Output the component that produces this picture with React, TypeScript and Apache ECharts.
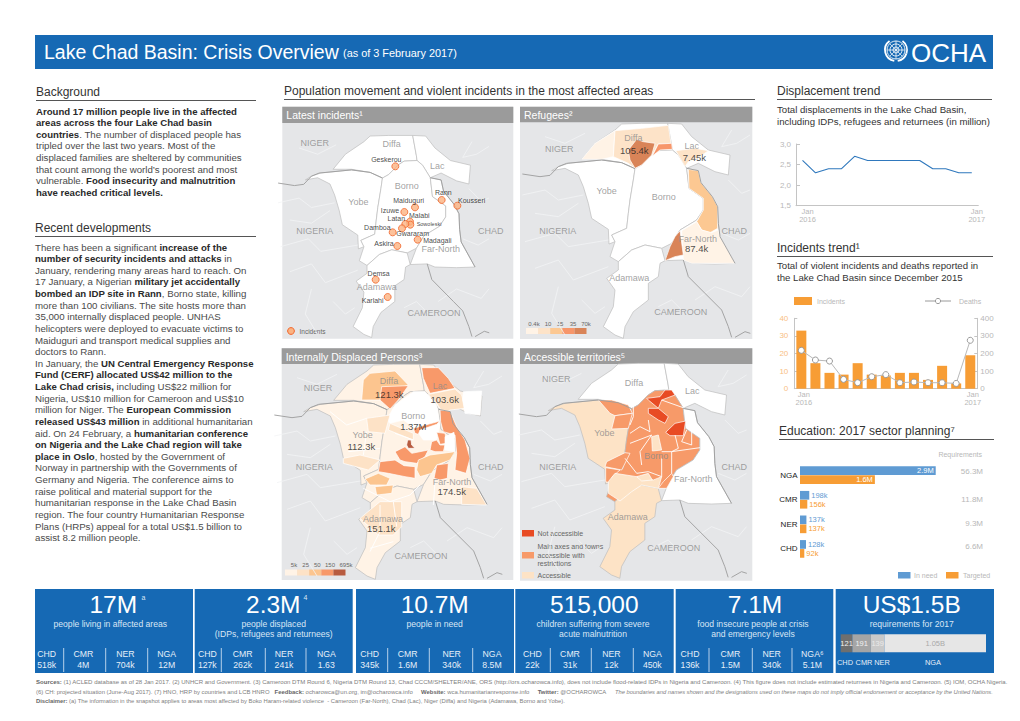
import React, { useEffect, useRef } from "react";
import * as echarts from "echarts";

const FONT = "'Liberation Sans', Arial, sans-serif";

// ---------- chart data ----------
const dispLabels = ["Jan\n2016", "", "", "", "", "", "", "", "", "", "", "", "", "Jan\n2017"];
const dispValues = [2.6, 2.3, 2.4, 2.4, 2.7, 2.6, 2.6, 2.6, 2.6, 2.6, 2.4, 2.4, 2.3, 2.3];
const incLabels = ["Jan\n2016", "", "", "", "", "", "", "", "", "", "", "", "Jan\n2017"];
const incidents = [33, 14.5, 9, 8, 14.5, 8, 7.5, 9, 9, 5, 13, 3, 19];
const deaths = [218, 163, 157, 53, 34, 68, 80, 34, 38, 34, 34, 30, 275];
const eduCats = ["NGA", "CMR", "NER", "CHD"];
const eduNeed = [2900, 198, 137, 128];
const eduTarget = [1600, 156, 137, 92];
const eduReq = ["56.3M", "11.8M", "9.3M", "6.6M"];
const reqValues = [121, 191, 139, 1050];
const reqLabels = ["121", "191", "139", "1.05B"];

// ---------- KPI ----------
const kpiBig = ["17M", "2.3M", "10.7M", "515,000", "7.1M", "US$1.5B"];
const kpiNote = [
  ["people living in affected areas"],
  ["people displaced", "(IDPs, refugees and returnees)"],
  ["people in need"],
  ["children suffering from severe", "acute malnutrition"],
  ["food insecure people at crisis", "and emergency levels"],
  ["requirements for 2017"],
];
const kpiCountry = ["CHD", "CMR", "NER", "NGA"];
const kpiRows = [
  ["518k", "4M", "704k", "12M"],
  ["127k", "262k", "241k", "1.63"],
  ["345k", "1.6M", "340k", "8.5M"],
  ["22k", "31k", "12k", "450k"],
  ["136k", "1.5M", "340k", "5.1M"],
];

// ---------- text ----------
const backgroundText = [
  "**Around 17 million people live in the affected**",
  "**areas across the four Lake Chad basin**",
  "**countries**. The number of displaced people has",
  "tripled over the last two years. Most of the",
  "displaced families are sheltered by communities",
  "that count among the world’s poorest and most",
  "vulnerable. **Food insecurity and malnutrition**",
  "**have reached critical levels.**",
];
const recentText = [
  "There has been a significant **increase of the**",
  "**number of security incidents and attacks** in",
  "January, rendering many areas hard to reach. On",
  "17 January, a Nigerian **military jet accidentally**",
  "**bombed an IDP site in Rann**, Borno state, killing",
  "more than 100 civilians. The site hosts more than",
  "35,000 internally displaced people. UNHAS",
  "helicopters were deployed to evacuate victims to",
  "Maiduguri and transport medical supplies and",
  "doctors to Rann.",
  "In January, the **UN Central Emergency Response**",
  "**Fund (CERF) allocated US$42 million to the**",
  "**Lake Chad crisis,** including US$22 million for",
  "Nigeria, US$10 million for Cameroon and US$10",
  "million for Niger. The **European Commission**",
  "**released US$43 million** in additional humanitarian",
  "aid. On 24 February, a **humanitarian conference**",
  "**on Nigeria and the Lake Chad region will take**",
  "**place in Oslo**, hosted by the Government of",
  "Norway in partnership with the Governments of",
  "Germany and Nigeria. The conference aims to",
  "raise political and material support for the",
  "humanitarian response in the Lake Chad Basin",
  "region. The four country Humanitarian Response",
  "Plans (HRPs) appeal for a total US$1.5 billion to",
  "assist 8.2 million people.",
];
const footer1 = "**Sources:** (1) ACLED database as of 28 Jan 2017. (2) UNHCR and Government. (3) Cameroon DTM Round 6, Nigeria DTM Round 13, Chad CCCM/SHELTER/ANE, ORS (http://ors.ocharowca.info), does not include flood-related IDPs in Nigeria and Cameroon. (4) This figure does not include estimated returnees in Nigeria and Cameroon. (5) IOM, OCHA Nigeria.";
const footer2 = "(6) CH: projected situation (June-Aug 2017). (7) HNO, HRP by countries and LCB HNRO   **Feedback:** ocharowca@un.org, im@ocharowca.info     **Website:** wca.humanitarianresponse.info     **Twitter:** @OCHAROWCA";
const footer2b = "The boundaries and names shown and the designations used on these maps do not imply official endorsement or acceptance by the United Nations.";
const footer3 = "**Disclaimer:** (a) The information in the snapshot applies to areas most affected by Boko Haram-related violence  - Cameroon (Far-North), Chad (Lac), Niger (Diffa) and Nigeria (Adamawa, Borno and Yobe).";

// ---------- map geometry (in a shared base coordinate frame) ----------
type Pt = [number, number];
const stateDiffa: Pt[] = [[200, 178], [240, 130], [300, 90], [320, 72], [380, 70], [458, 70], [470, 135], [472, 150], [430, 152], [410, 165], [380, 195], [360, 206], [320, 188], [260, 178]];
const stateLac: Pt[] = [[458, 70], [500, 72], [530, 110], [580, 150], [645, 165], [640, 225], [600, 215], [550, 190], [515, 205], [490, 165], [472, 150], [470, 135]];
const stateYobe: Pt[] = [[110, 212], [130, 200], [160, 190], [260, 180], [320, 188], [360, 206], [355, 240], [345, 300], [340, 340], [335, 385], [290, 405], [300, 425], [282, 432], [280, 388], [230, 355], [220, 310], [205, 260], [190, 225], [150, 205]];
const stateBorno: Pt[] = [[360, 206], [380, 195], [410, 165], [430, 152], [472, 150], [490, 165], [515, 205], [522, 265], [565, 295], [565, 330], [545, 360], [495, 390], [470, 430], [440, 445], [390, 435], [350, 450], [310, 485], [285, 470], [300, 425], [290, 405], [335, 385], [340, 340], [345, 300], [355, 240]];
const stateFarNorth: Pt[] = [[515, 205], [550, 212], [558, 248], [592, 290], [608, 320], [610, 370], [615, 410], [660, 490], [600, 492], [530, 490], [505, 480], [450, 482], [470, 430], [495, 390], [545, 360], [565, 330], [565, 295], [522, 265]];
const stateAdamawa: Pt[] = [[310, 485], [350, 450], [390, 435], [440, 445], [450, 482], [435, 490], [430, 530], [400, 550], [400, 600], [355, 635], [330, 680], [325, 715], [300, 705], [265, 680], [295, 620], [300, 570], [275, 535], [310, 510]];
const stateNames = ["Diffa", "Lac", "Yobe", "Borno", "FarNorth", "Adamawa"];
const statePolys: Pt[][] = [stateDiffa, stateLac, stateYobe, stateBorno, stateFarNorth, stateAdamawa];

const borderLines: Pt[][] = [
  [[22, 222], [75, 230], [105, 226], [130, 200], [155, 190], [260, 180], [320, 188], [360, 206]],
  [[505, 480], [520, 530], [590, 600], [620, 630], [640, 680], [650, 712]],
  [[660, 712], [690, 695], [706, 700]],
  [[515, 205], [550, 212], [558, 248], [592, 290], [608, 320], [610, 370], [615, 410], [660, 490]],
];
const adminLines: Pt[][] = [
  [[22, 285], [90, 270], [130, 300], [205, 285]],
  [[30, 425], [120, 400], [160, 440], [280, 420]],
  [[60, 505], [130, 480], [175, 540], [280, 500]],
  [[130, 560], [110, 640], [150, 705]],
  [[200, 600], [240, 640], [270, 620]],
  [[650, 90], [620, 140], [665, 130], [705, 105]],
  [[640, 240], [680, 280], [705, 270]],
  [[620, 400], [670, 420], [705, 400]],
  [[540, 600], [600, 560], [680, 590], [705, 560]],
  [[430, 620], [470, 600], [510, 640]],
  [[90, 110], [150, 130], [210, 100]],
  [[60, 340], [130, 350], [190, 310]],
];
const idpDividers: Pt[][] = [
  [[300, 480], [300, 560], [270, 620]],
  [[340, 470], [350, 545]],
  [[250, 430], [330, 470], [390, 450], [420, 420]],
  [[205, 320], [300, 310]],
  [[260, 260], [250, 330]],
  [[270, 610], [340, 590]],
  [[465, 410], [460, 480]],
  [[150, 200], [200, 240], [260, 220]],
  [[345, 265], [400, 285]],
];
const accessDividers: Pt[][] = [
  [[400, 225], [405, 260], [375, 245], [345, 265]],
  [[345, 295], [410, 270], [375, 320], [380, 360]],
  [[440, 340], [440, 395]],
  [[480, 270], [490, 310], [470, 320], [470, 385]],
  [[355, 180], [355, 215], [345, 240]],
  [[515, 255], [500, 290], [530, 300], [530, 255]],
  [[330, 340], [365, 385], [400, 380], [440, 395]],
  [[440, 165], [510, 190]],
  [[440, 320], [470, 320], [555, 308]],
];

// Choropleth cells per panel: [class index, ring] in the panel's own traced frame
const refugeeCells: [number, Pt[]][] = [
  [0, [[200, 178], [240, 130], [300, 92], [295, 170], [260, 178]]],
  [1, [[300, 92], [380, 85], [460, 76], [468, 130], [430, 132], [412, 165], [380, 195], [360, 205], [340, 190], [295, 170]]],
  [4, [[365, 118], [385, 125], [420, 130], [410, 165], [380, 195], [360, 205], [345, 180], [340, 150]]],
  [3, [[430, 132], [470, 130], [472, 148], [435, 150], [412, 168]]],
  [1, [[482, 152], [540, 145], [580, 152], [555, 170], [520, 185], [510, 200], [490, 165]]],
  [2, [[520, 208], [550, 212], [558, 248], [592, 290], [608, 320], [608, 385], [585, 398], [560, 390], [545, 365], [565, 330], [565, 295], [522, 265]]],
  [0, [[545, 365], [560, 390], [590, 398], [610, 390], [615, 410], [660, 490], [530, 490], [505, 480], [500, 392]]],
  [4, [[495, 392], [505, 465], [480, 470], [450, 482], [465, 440], [480, 410]]],
];
const idpCells: [number, Pt[]][] = [
  [2, [[250, 105], [270, 85], [345, 78], [385, 120], [345, 135], [300, 165], [245, 165]]],
  [3, [[305, 125], [385, 122], [355, 165], [330, 192], [300, 165]]],
  [3, [[425, 68], [475, 68], [505, 100], [525, 130], [450, 145], [430, 100]]],
  [1, [[445, 148], [525, 132], [545, 150], [555, 190], [510, 195], [490, 205], [470, 175]]],
  [5, [[550, 140], [605, 138], [600, 210], [555, 205], [548, 165]]],
  [5, [[320, 225], [345, 180], [400, 140], [435, 140], [470, 180], [480, 240], [470, 285], [430, 285], [405, 250], [370, 225], [330, 235]]],
  [1, [[260, 220], [330, 210], [315, 265], [265, 260]]],
  [1, [[330, 235], [400, 265], [400, 285], [325, 255]]],
  [3, [[480, 195], [510, 198], [530, 245], [555, 285], [570, 340], [558, 385], [525, 375], [530, 325], [525, 270], [490, 260], [482, 230]]],
  [3, [[345, 320], [375, 305], [395, 325], [445, 315], [435, 335], [410, 355], [375, 350], [360, 345]]],
  [3, [[300, 350], [345, 345], [372, 362], [405, 365], [405, 400], [375, 395], [325, 385], [295, 380]]],
  [3, [[400, 250], [480, 228], [470, 238], [420, 255], [415, 268], [405, 265]]],
  [3, [[455, 290], [470, 285], [480, 300], [495, 300], [490, 320], [465, 320], [450, 315]]],
  [3, [[470, 262], [495, 265], [500, 295], [480, 298]]],
  [5, [[495, 275], [522, 262], [525, 320], [495, 315]]],
  [2, [[415, 345], [450, 330], [525, 320], [510, 345], [470, 360], [455, 385], [420, 395], [410, 375]]],
  [3, [[470, 360], [505, 355], [502, 400], [480, 405], [462, 400]]],
  [4, [[383, 285], [393, 285], [395, 300], [405, 310], [385, 310], [380, 300]]],
  [2, [[255, 402], [295, 385], [330, 400], [320, 420], [290, 420], [270, 420]]],
  [2, [[285, 425], [340, 420], [335, 445], [290, 450]]],
  [1, [[300, 470], [365, 470], [365, 545], [340, 570], [295, 570], [240, 520]]],
  [1, [[545, 425], [590, 430], [620, 480], [545, 478]]],
  [1, [[190, 340], [240, 330], [300, 345], [265, 375], [190, 355]]],
];
const accessCells: [number, Pt[]][] = [
  [1, [[250, 165], [290, 165], [340, 180], [352, 205], [300, 212], [285, 205]]],
  [1, [[300, 212], [352, 205], [340, 250], [290, 252]]],
  [1, [[275, 350], [330, 323], [345, 325], [335, 345], [320, 375], [270, 365]]],
  [1, [[272, 368], [315, 375], [292, 395], [288, 415], [272, 410]]],
  [0, [[280, 410], [300, 385], [365, 395], [415, 405], [440, 395], [430, 430], [380, 420], [350, 440], [315, 468], [280, 445]]],
  [0, [[410, 275], [430, 270], [440, 315], [412, 318]]],
  [0, [[365, 395], [400, 385], [412, 405], [380, 408]]],
  [1, [[430, 430], [445, 410], [470, 385], [475, 395], [455, 430]]],
  [2, [[395, 160], [435, 155], [450, 135], [470, 135], [480, 150], [440, 165], [430, 190], [400, 165]]],
  [2, [[400, 190], [430, 190], [460, 215], [450, 235], [430, 225], [400, 205]]],
  [2, [[452, 262], [480, 235], [512, 228], [505, 272], [465, 272]]],
];

// Place names and values per panel: [text, x, y]
const p1Names: [string, number, number][] = [["NIGER", 104, 130], ["Diffa", 335, 131], ["Lac", 472, 197], ["Borno", 380, 258], ["Yobe", 235, 306], ["NIGERIA", 104, 393], ["CHAD", 632, 393], ["Far-North", 482, 447], ["Adamawa", 290, 561], ["CAMEROON", 462, 640]];
const p2Names: [string, number, number][] = [["NIGER", 133, 148], ["Diffa", 355, 115], ["Lac", 530, 138], ["Yobe", 275, 272], ["Borno", 446, 292], ["NIGERIA", 128, 393], ["CHAD", 658, 393], ["Far-North", 548, 418], ["Adamawa", 343, 533], ["CAMEROON", 497, 635]];
const p3Names: [string, number, number][] = [["NIGER", 114, 130], ["Diffa", 327, 107], ["Lac", 480, 122], ["Borno", 400, 214], ["Yobe", 248, 270], ["NIGERIA", 103, 367], ["CHAD", 632, 367], ["Far-North", 516, 411], ["Adamawa", 309, 521], ["CAMEROON", 423, 632]];
const p4Names: [string, number, number][] = [["NIGER", 124, 103], ["Diffa", 357, 115], ["Lac", 532, 138], ["Yobe", 268, 263], ["NIGERIA", 128, 367], ["CHAD", 658, 367], ["Borno", 424, 333], ["Far-North", 535, 403], ["Adamawa", 338, 516], ["CAMEROON", 476, 610]];
const p2Values: [string, number, number][] = [["105.4k", 358, 150], ["7.45k", 538, 171], ["87.4k", 545, 445]];
const p3Values: [string, number, number][] = [["121.3k", 328, 147], ["103.6k", 494, 162], ["1.37M", 400, 244], ["112.3k", 244, 303], ["174.5k", 515, 440], ["151.1k", 304, 550]];
const incidentPoints: Pt[] = [[346, 199], [485, 300], [532, 317], [405, 322], [373, 336], [390, 365], [391, 374], [376, 372], [366, 385], [338, 397], [413, 419], [352, 438], [287, 539], [323, 591]];
const incidentNames: [string, number, number][] = [["Geskerou", 319, 179], ["Rann", 490, 278], ["Kousseri", 575, 301], ["Maiduguri", 386, 301], ["Izuwe", 330, 331], ["Latan", 349, 356], ["Malabi", 418, 345], ["Sowoleski", 447, 373], ["Damboa", 292, 381], ["Gwararam", 398, 400], ["Madagali", 472, 422], ["Askira", 312, 431], ["Demsa", 296, 519], ["Karlahi", 278, 600]];

const refugeeLegend = ["0.4k", "10", "15", "35", "70k"];
const idpLegend = ["5k", "25", "50", "150", "695k"];

// ---------- palettes ----------
const refugeePalette = ["#fff3e6", "#fde3c8", "#fcc892", "#f7966a", "#d98458"];
const idpPalette = ["#fff3e6", "#fde2c6", "#fcc58f", "#f8996a", "#b85c40", "#ffffff"];
const accessPalette = ["#fde3c6", "#f79a69", "#e84b24"];
const BLUE = "#1669b4";
const GRAY_LABEL = "#8a8a8a";
const AXIS = "#c4c4c4";
const AXIS_TEXT = "#b8b8b8";
const ORANGE = "#f79d35";
const SKY = "#5f9bd3";

function closeRing(r: Pt[]): Pt[] {
  return [...r, r[0]];
}

function registerPanel(
  key: string,
  w: number,
  h: number,
  xform: (p: Pt) => Pt,
  stateFill: string[],
  cells: [number, Pt[]][],
  palette: string[],
) {
  const features: any[] = [];
  const regions: any[] = [];
  const add = (name: string, ring: Pt[], style: any) => {
    features.push({ type: "Feature", properties: { name }, geometry: { type: "Polygon", coordinates: [closeRing(ring)] } });
    regions.push({ name, itemStyle: style, emphasis: { disabled: true }, silent: true });
  };
  add("frame", [[0, 0], [w, 0], [w, h], [0, h]], { areaColor: "transparent", borderWidth: 0, borderColor: "transparent" });
  stateNames.forEach((n, i) => {
    add(n, statePolys[i].map(xform), { areaColor: stateFill[i], borderColor: "#bdbdbd", borderWidth: 0.7 });
  });
  cells.forEach(([cls, ring], i) => {
    add(`cell${i}`, ring, { areaColor: palette[cls], borderColor: "#ffffff", borderWidth: 0.7 });
  });
  echarts.registerMap(key, { geoJSON: { type: "FeatureCollection", features } } as any);
  return regions;
}

function inlineParts(line: string) {
  const parts = line.split("**");
  return parts
    .map((p, i) => {
      if (!p) return "";
      const safe = p.replace(/[{}]/g, "");
      return i % 2 === 1 ? `{b|${safe}}` : `{n|${safe}}`;
    })
    .join("");
}

function T(text: string, x: number, y: number, o: any = {}) {
  const align = o.align || "left";
  return {
    type: "text",
    x,
    y,
    silent: true,
    style: {
      text,
      fill: o.fill || "#333333",
      fontSize: o.size || 9,
      fontFamily: FONT,
      fontWeight: o.weight || "normal",
      fontStyle: o.italic ? "italic" : "normal",
      align,
      textAlign: align,
      verticalAlign: "middle",
      textVerticalAlign: "middle",
    },
  };
}

function RT(line: string, x: number, y: number, size: number, boldSize: number, fill: string, boldFill: string) {
  return {
    type: "text",
    x,
    y,
    silent: true,
    style: {
      text: inlineParts(line),
      fontSize: size,
      fontFamily: FONT,
      fill,
      align: "left",
      textAlign: "left",
      verticalAlign: "middle",
      textVerticalAlign: "middle",
      rich: {
        n: { fontSize: size, fontFamily: FONT, fill, fontWeight: "normal" },
        b: { fontSize: boldSize, fontFamily: FONT, fill: boldFill, fontWeight: "bold" },
      },
    },
  };
}

function R(x: number, y: number, w: number, h: number, fill: string) {
  return { type: "rect", silent: true, shape: { x, y, width: w, height: h }, style: { fill } };
}
function L(x1: number, y1: number, x2: number, y2: number, stroke: string, lw = 1) {
  return { type: "line", silent: true, shape: { x1, y1, x2, y2 }, style: { stroke, lineWidth: lw } };
}

const PAGE_W = 1020;
const PAGE_H = 721;

function buildOption() {
  const id: (p: Pt) => Pt = (p) => p;
  const toP1: (p: Pt) => Pt = ([x, y]) => [0.926 * x - 26, 0.94 * y + 40.5];
  const toP3: (p: Pt) => Pt = ([x, y]) => [x - 39, y - 12];
  const toP4: (p: Pt) => Pt = ([x, y]) => [x - 10.5, y - 15];
  const W = "#ffffff";
  const P = idpPalette[0];
  const A = accessPalette[0];
  const O = accessPalette[1];

  const panels = [
    { key: "p1", ox: 280, oy: 100, w: 720, h: 735, xf: toP1, fill: [W, W, W, W, W, W], cells: [] as [number, Pt[]][], pal: refugeePalette },
    { key: "p2", ox: 515, oy: 100, w: 750, h: 735, xf: id, fill: [W, W, W, W, W, W], cells: refugeeCells, pal: refugeePalette },
    { key: "p3", ox: 280, oy: 345, w: 720, h: 720, xf: toP3, fill: [P, P, P, P, P, P], cells: idpCells, pal: idpPalette },
    { key: "p4", ox: 515, oy: 345, w: 750, h: 720, xf: toP4, fill: [W, W, A, O, W, A], cells: accessCells, pal: accessPalette },
  ];

  const geo = panels.map((p) => {
    const regions = registerPanel(p.key, p.w, p.h, p.xf, p.fill, p.cells, p.pal);
    return {
      map: p.key,
      z: 1,
      silent: true,
      roam: false,
      left: p.ox,
      top: p.oy,
      width: p.w / 3,
      height: p.h / 3,
      projection: { project: (c: number[]) => [c[0], c[1]], unproject: (c: number[]) => [c[0], c[1]] },
      label: { show: false },
      emphasis: { disabled: true },
      select: { disabled: true },
      itemStyle: { areaColor: "transparent", borderWidth: 0 },
      regions,
    };
  });

  const nameSets = [p1Names, p2Names, p3Names, p4Names];
  const valueSets: [string, number, number][][] = [[], p2Values, p3Values, []];
  const dividerSets: Pt[][][] = [[], [], idpDividers, accessDividers];

  const hidden = { color: "transparent", borderWidth: 0 };

  const mapSeries: any[] = [];
  panels.forEach((p, i) => {
    mapSeries.push({
      type: "lines", coordinateSystem: "geo", geoIndex: i, polyline: true, silent: true, z: 2,
      lineStyle: { color: "#f3f4f5", width: 0.8, opacity: 1 },
      data: adminLines.map((r) => ({ coords: r.map(p.xf) })),
    });
    if (dividerSets[i].length) {
      mapSeries.push({
        type: "lines", coordinateSystem: "geo", geoIndex: i, polyline: true, silent: true, z: 2,
        lineStyle: { color: "#ffffff", width: 0.9, opacity: 1 },
        data: dividerSets[i].map((r) => ({ coords: r })),
      });
    }
    mapSeries.push({
      type: "lines", coordinateSystem: "geo", geoIndex: i, polyline: true, silent: true, z: 3,
      lineStyle: { color: "#9c9c9c", width: 0.9, opacity: 1 },
      data: borderLines.map((r) => ({ coords: r.map(p.xf) })),
    });
    mapSeries.push({
      type: "scatter", coordinateSystem: "geo", geoIndex: i, silent: true, z: 6, symbolSize: 1,
      itemStyle: hidden,
      label: { show: true, position: "inside", formatter: "{b}", color: GRAY_LABEL, fontSize: 9, fontFamily: FONT },
      data: nameSets[i].map(([n, x, y]) => ({ name: n, value: [x, y] })),
    });
    if (valueSets[i].length) {
      mapSeries.push({
        type: "scatter", coordinateSystem: "geo", geoIndex: i, silent: true, z: 7, symbolSize: 1,
        itemStyle: hidden,
        label: { show: true, position: "inside", formatter: "{b}", color: "#222222", fontSize: 9.5, fontFamily: FONT },
        data: valueSets[i].map(([n, x, y]) => ({ name: n, value: [x, y] })),
      });
    }
  });
  mapSeries.push({
    type: "scatter", coordinateSystem: "geo", geoIndex: 0, silent: true, z: 5, symbolSize: 7,
    itemStyle: { color: "#fbb382", borderColor: "#f1652a", borderWidth: 1 },
    data: incidentPoints,
  });
  mapSeries.push({
    type: "scatter", coordinateSystem: "geo", geoIndex: 0, silent: true, z: 8, symbolSize: 1,
    itemStyle: hidden,
    label: { show: true, position: "inside", formatter: "{b}", color: "#111111", fontSize: 7, fontFamily: FONT },
    data: incidentNames.map(([n, x, y]) => ({
      name: n,
      value: [x, y],
      label: n === "Sowoleski" ? { fontSize: 5.5 } : undefined,
    })),
  });

  // ---------- static page furniture ----------
  const g: any[] = [];
  g.push(R(35, 35, 958, 34, BLUE));
  g.push(T("Lake Chad Basin: Crisis Overview", 44, 52, { size: 19.5, fill: "#ffffff" }));
  g.push(T("(as of 3 February 2017)", 343, 53, { size: 10.9, fill: "#ffffff" }));
  [9, 6, 3].forEach((r) => g.push({ type: "circle", silent: true, shape: { cx: 896, cy: 50, r }, style: { fill: "none", stroke: "#ffffff", lineWidth: 0.9 } }));
  g.push(L(887, 50, 905, 50, "#ffffff", 0.7));
  g.push(L(896, 41, 896, 59, "#ffffff", 0.7));
  g.push(L(889.6, 43.6, 902.4, 56.4, "#ffffff", 0.7));
  g.push(L(902.4, 43.6, 889.6, 56.4, "#ffffff", 0.7));
  g.push({ type: "arc", silent: true, shape: { cx: 896, cy: 50, r: 11, startAngle: Math.PI * 0.1, endAngle: Math.PI * 0.45 }, style: { fill: "none", stroke: "#ffffff", lineWidth: 1.8 } });
  g.push({ type: "arc", silent: true, shape: { cx: 896, cy: 50, r: 11, startAngle: Math.PI * 0.55, endAngle: Math.PI * 1.3 }, style: { fill: "none", stroke: "#ffffff", lineWidth: 1.8 } });
  g.push({ type: "arc", silent: true, shape: { cx: 896, cy: 50, r: 11, startAngle: Math.PI * 1.7, endAngle: Math.PI * 2.1 }, style: { fill: "none", stroke: "#ffffff", lineWidth: 1.8 } });
  g.push(T("OCHA", 911, 53, { size: 26, fill: "#ffffff" }));

  const title = (s: string, x: number, y: number, x2: number, ly: number) => {
    g.push(T(s, x, y, { size: 12, fill: "#333333" }));
    g.push(L(x, ly, x2, ly, "#555555", 1));
  };
  title("Background", 36, 92, 256, 100.5);
  title("Recent developments", 35, 228, 256, 236.5);
  title("Population movement and violent incidents in the most affected areas", 284, 91, 755, 99.5);
  title("Displacement trend", 777, 91, 992, 99.5);
  title("Incidents trend¹", 777, 248, 993, 256.5);
  title("Education: 2017 sector planning⁷", 779, 431, 994, 439.5);

  backgroundText.forEach((l, i) => g.push(RT(l, 36, 111 + i * 11.65, 9.7, 9.6, "#4a4a4a", "#2a2a2a")));
  recentText.forEach((l, i) => g.push(RT(l, 35, 247 + i * 11.63, 9.7, 9.6, "#4a4a4a", "#2a2a2a")));

  g.push(T("Total displacements in the Lake Chad Basin,", 777, 109, { size: 9.65 }));
  g.push(T("including IDPs, refugees and returnees (in million)", 777, 121, { size: 9.65 }));
  g.push(T("Total of violent incidents and deaths reported in", 777, 265, { size: 9.65 }));
  g.push(T("the Lake Chad Basin since December 2015", 777, 277, { size: 9.65 }));

  g.push(R(794, 297, 18, 8, ORANGE));
  g.push(T("Incidents", 817, 301, { size: 7, fill: AXIS_TEXT }));
  g.push(L(925, 301, 951, 301, "#9a9a9a", 1));
  g.push({ type: "circle", silent: true, shape: { cx: 938, cy: 301, r: 2.6 }, style: { fill: "#ffffff", stroke: "#9a9a9a", lineWidth: 1 } });
  g.push(T("Deaths", 959, 301, { size: 7, fill: AXIS_TEXT }));

  g.push(T("Requirements", 982, 454, { size: 7, fill: AXIS_TEXT, align: "right" }));
  [471.7, 499.7, 523.3, 546.7].forEach((y, i) => g.push(T(eduReq[i], 983, y, { size: 8, fill: AXIS_TEXT, align: "right" })));
  g.push(R(898, 572, 12.5, 6.5, SKY));
  g.push(T("In need", 914, 575, { size: 7, fill: AXIS_TEXT }));
  g.push(R(946, 572, 12.5, 6.5, ORANGE));
  g.push(T("Targeted", 963, 575, { size: 7, fill: AXIS_TEXT }));

  const hdrs = [
    { x: 282.3, y: 106.7, x2: 513.3, y2: 338.7, hy: 123, t: "Latest incidents¹" },
    { x: 520, y: 106.7, x2: 752.3, y2: 339, hy: 122.3, t: "Refugees²" },
    { x: 281.7, y: 348.3, x2: 513.3, y2: 580, hy: 364, t: "Internally Displaced Persons³" },
    { x: 520, y: 348.3, x2: 752.3, y2: 580.7, hy: 364, t: "Accessible territories⁵" },
  ];
  hdrs.forEach((h) => {
    g.push(R(h.x, h.y, h.x2 - h.x, h.y2 - h.y, "#e5e6e8"));
    g.push(R(h.x, h.y, h.x2 - h.x, h.hy - h.y, "#9b9b9b"));
    g.push(T(h.t, h.x + 4, (h.y + h.hy) / 2 + 0.5, { size: 10.5, fill: "#ffffff" }));
  });
  g.push({ type: "circle", silent: true, shape: { cx: 291, cy: 331, r: 3.4 }, style: { fill: "#fbb382", stroke: "#f1652a", lineWidth: 1 } });
  g.push(T("Incidents", 299.5, 331.5, { size: 6.5, fill: "#666666" }));
  refugeePalette.forEach((c, i) => g.push(R(526 + i * 12.1, 328, 12.1, 6, c)));
  refugeeLegend.forEach((t, i) => g.push(T(t, [534, 548, 560, 573, 586][i], 324, { size: 6, fill: "#666666", align: "center" })));
  idpPalette.slice(0, 5).forEach((c, i) => g.push(R(285 + i * 12.1, 569.5, 12.1, 6, c)));
  idpLegend.forEach((t, i) => g.push(T(t, [294, 305.7, 317.3, 330, 346][i], 565, { size: 6, fill: "#666666", align: "center" })));
  g.push(R(522, 530, 12, 6.5, accessPalette[2]));
  g.push(T("Not accessible", 537.5, 533, { size: 7, fill: "#666666" }));
  g.push(R(522, 552, 12, 6.5, accessPalette[1]));
  g.push(T("Main axes and towns", 537.5, 546, { size: 7, fill: "#666666" }));
  g.push(T("accessible with", 537.5, 555, { size: 7, fill: "#666666" }));
  g.push(T("restrictions", 537.5, 563, { size: 7, fill: "#666666" }));
  g.push(R(522, 572, 12, 6.5, accessPalette[0]));
  g.push(T("Accessible", 537.5, 575, { size: 7, fill: "#666666" }));

  const boxes = [[35, 193], [194.7, 352.7], [356, 514], [515.3, 673.7], [675.7, 833.3], [835.7, 994]];
  const bigX = [113.3, 273.3, 434.7, 594.3, 755, 911.7];
  const noteX = [110.3, 273.7, 434.7, 593, 753, 911.7];
  boxes.forEach(([a, b], i) => {
    g.push(R(a, 589, b - a, 84, BLUE));
    g.push(T(kpiBig[i], bigX[i], 604.5, { size: 24.5, fill: "#ffffff", align: "center" }));
    kpiNote[i].forEach((s, j) => g.push(T(s, noteX[i], 623.7 + j * 10, { size: 8.6, fill: "#d9e6f4", align: "center" })));
  });
  g.push(T("a", 141.5, 597, { size: 7, fill: "#d9e6f4" }));
  g.push(T("4", 303.5, 597, { size: 7, fill: "#d9e6f4" }));
  const colX = [[46.7, 83.3, 125.3, 166.7], [207.3, 242.7, 284, 326.3], [369.7, 407.7, 451.7, 492], [532.3, 570, 611.3, 652.3], [690, 730.3, 771.7, 812.3]];
  const sepX = [[63.7, 105.7, 147.7], [221.3, 265.3, 306], [387.7, 429.3, 472.7], [550.3, 591.3, 633.3], [709, 752.3, 792]];
  kpiRows.forEach((row, i) => {
    row.forEach((v, j) => {
      const name = i === 4 && j === 3 ? "NGA⁶" : kpiCountry[j];
      g.push(T(name, colX[i][j], 654, { size: 8.7, fill: "#e6eff8", align: "center" }));
      g.push(T(v, colX[i][j], 664.5, { size: 8.7, fill: "#e6eff8", align: "center" }));
    });
    sepX[i].forEach((x) => g.push(L(x, 648, x, 672, "#b6d0ea", 1)));
  });
  g.push(T("CHD", 845, 662.7, { size: 7.4, fill: "#e6eff8", align: "center" }));
  g.push(T("CMR", 864, 662.7, { size: 7.4, fill: "#e6eff8", align: "center" }));
  g.push(T("NER", 882, 662.7, { size: 7.4, fill: "#e6eff8", align: "center" }));
  g.push(T("NGA", 933, 662, { size: 7.4, fill: "#e6eff8", align: "center" }));

  g.push(RT(footer1, 36, 682, 6.05, 6.05, "#808080", "#666666"));
  g.push(RT(footer2, 36, 692, 5.95, 5.95, "#808080", "#666666"));
  g.push(T(footer2b, 615, 692, { size: 5.75, fill: "#808080", italic: true }));
  g.push(RT(footer3, 36, 701.3, 5.85, 5.85, "#808080", "#666666"));

  const axisLabel = { color: AXIS_TEXT, fontSize: 7.5, fontFamily: FONT };

  return {
    animation: false,
    backgroundColor: "#ffffff",
    textStyle: { fontFamily: FONT },
    graphic: { z: 0, elements: g },
    geo,
    grid: [
      { left: 796, right: PAGE_W - 978.3, top: 144, bottom: PAGE_H - 205.7, containLabel: false },
      { left: 794.3, right: PAGE_W - 977.3, top: 318.3, bottom: PAGE_H - 388.7, containLabel: false },
      { left: 800, width: 140.4, top: 462.9, height: 98.3, containLabel: false },
      { left: 840.7, width: 145.3, top: 634.3, height: 18, containLabel: false },
    ],
    xAxis: [
      {
        type: "category", gridIndex: 0, data: dispLabels, boundaryGap: true,
        axisLine: { lineStyle: { color: AXIS, width: 1 } }, axisTick: { show: false },
        axisLabel: { ...axisLabel, interval: 0, margin: 2, lineHeight: 8, padding: [0, 0, 0, 10] },
      },
      {
        type: "category", gridIndex: 1, data: incLabels, boundaryGap: true,
        axisLine: { lineStyle: { color: AXIS, width: 1 } }, axisTick: { show: false },
        axisLabel: { ...axisLabel, interval: 0, margin: 2, lineHeight: 8, padding: [0, 0, 0, 5] },
      },
      { type: "value", gridIndex: 2, min: 0, max: 3000, show: false },
      { type: "value", gridIndex: 3, min: 0, max: 1501, show: false },
    ],
    yAxis: [
      {
        type: "value", gridIndex: 0, min: 1.5, max: 3, interval: 0.5,
        axisLine: { show: true, lineStyle: { color: AXIS, width: 1 } },
        axisTick: { show: true, length: 4, inside: true, lineStyle: { color: AXIS } },
        splitLine: { show: false },
        axisLabel: { ...axisLabel, fontSize: 8, margin: 5, formatter: (v: number) => v.toFixed(1).replace(".", ",") },
      },
      {
        type: "value", gridIndex: 1, min: 0, max: 40, interval: 10,
        axisLine: { show: true, lineStyle: { color: AXIS, width: 1 } },
        axisTick: { show: true, length: 3, inside: true, lineStyle: { color: AXIS } },
        splitLine: { show: false },
        axisLabel: { ...axisLabel, fontSize: 8, color: "#f9c083", margin: 6, padding: [8, 0, 0, 0] },
      },
      {
        type: "value", gridIndex: 1, position: "right", min: 0, max: 400, interval: 100,
        axisLine: { show: true, lineStyle: { color: AXIS, width: 1 } },
        axisTick: { show: true, length: 3, inside: true, lineStyle: { color: AXIS } },
        splitLine: { show: false },
        axisLabel: { ...axisLabel, fontSize: 8, margin: 3, padding: [3, 0, 0, 0] },
      },
      {
        type: "category", gridIndex: 2, data: eduCats, inverse: true,
        axisLine: { show: false }, axisTick: { show: false },
        axisLabel: { color: "#222222", fontSize: 8, fontFamily: FONT, margin: 2.5 },
      },
      { type: "category", gridIndex: 3, data: ["Requirements"], show: false },
    ],
    series: [
      {
        type: "line", xAxisIndex: 0, yAxisIndex: 0, data: dispValues, symbol: "none", silent: true,
        lineStyle: { color: "#2f78bd", width: 1.1 },
      },
      {
        type: "bar", xAxisIndex: 1, yAxisIndex: 1, data: incidents, barWidth: 10, silent: true,
        itemStyle: { color: ORANGE },
      },
      {
        type: "line", xAxisIndex: 1, yAxisIndex: 2, data: deaths, symbol: "circle", symbolSize: 6, silent: true, z: 4,
        lineStyle: { color: "#b9b9b9", width: 1 },
        itemStyle: { color: "#ffffff", borderColor: "#9a9a9a", borderWidth: 1 },
      },
      {
        type: "bar", xAxisIndex: 2, yAxisIndex: 3, name: "In need", barWidth: 8.7, barGap: "3%", silent: true,
        itemStyle: { color: SKY },
        data: eduNeed.map((v) => ({
          value: v,
          label: {
            show: true, position: v >= 1000 ? "insideRight" : "right", distance: 2,
            color: v >= 1000 ? "#ffffff" : SKY, fontSize: 7.5, fontFamily: FONT,
            formatter: () => (v >= 1000 ? `${(v / 1000).toFixed(1)}M` : `${v}k`),
          },
        })),
      },
      {
        type: "bar", xAxisIndex: 2, yAxisIndex: 3, name: "Targeted", barWidth: 8.7, silent: true,
        itemStyle: { color: ORANGE },
        data: eduTarget.map((v) => ({
          value: v,
          label: {
            show: true, position: v >= 1000 ? "insideRight" : "right", distance: 2,
            color: v >= 1000 ? "#ffffff" : ORANGE, fontSize: 7.5, fontFamily: FONT,
            formatter: () => (v >= 1000 ? `${(v / 1000).toFixed(1)}M` : `${v}k`),
          },
        })),
      },
      ...reqValues.map((v, i) => ({
        type: "bar", xAxisIndex: 3, yAxisIndex: 4, stack: "req", barWidth: 18, silent: true,
        itemStyle: { color: ["#6f6f6f", "#a5a5a5", "#c9c9c9", "#e6e6e6"][i] },
        label: {
          show: true, position: "inside", color: ["#f2f2f2", "#f2f2f2", "#e9e9e9", "#a9a9a9"][i],
          fontSize: 7.5, fontFamily: FONT, formatter: () => reqLabels[i],
        },
        data: [v],
      })),
      ...mapSeries,
    ],
  };
}

export default function App() {
  const ref = useRef<HTMLDivElement>(null);
  useEffect(() => {
    document.body.style.margin = "0";
    document.body.style.background = "#ffffff";
    const chart = echarts.init(ref.current!, undefined, { renderer: "svg" });
    chart.setOption(buildOption() as any);
    return () => chart.dispose();
  }, []);
  return <div ref={ref} style={{ width: PAGE_W, height: PAGE_H }} />;
}
